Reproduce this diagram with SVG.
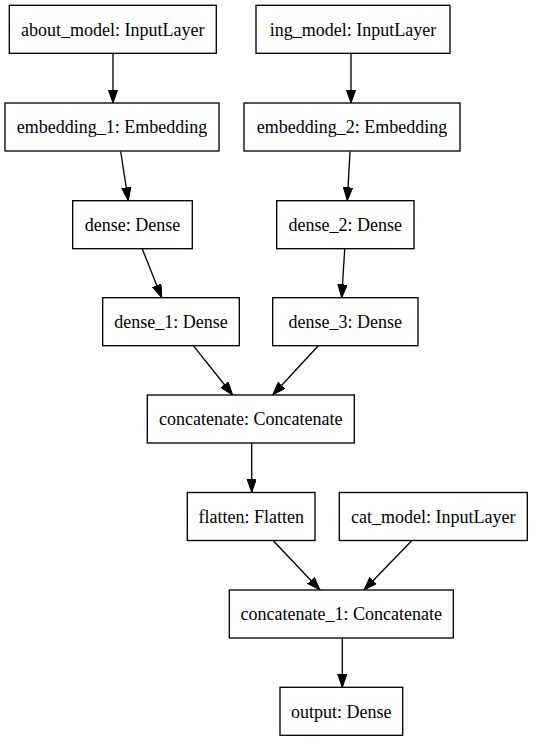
<svg xmlns="http://www.w3.org/2000/svg" width="533" height="741" viewBox="0 0 533 741">
<style>
rect{fill:#fff;stroke:#000;stroke-width:1.33}
text{font-family:'Liberation Serif',Tinos,'Times New Roman',Times,serif;font-size:18px;text-anchor:middle;fill:#000}
.e line{stroke:#000;stroke-width:1.33;marker-end:url(#ah)}
</style>
<defs>
<marker id="ah" markerUnits="userSpaceOnUse" markerWidth="14" markerHeight="10" refX="13.3" refY="4.67" orient="auto">
<path d="M0,0 L13.3,4.67 L0,9.33 z" fill="#000" stroke="#000" stroke-width="1"/>
</marker>
</defs>
<rect x="0" y="0" width="533" height="741" style="stroke:none"/>
<g class="e" id="edges">
<line x1="113" y1="53.5" x2="113" y2="103"/>
<line x1="351" y1="53.5" x2="351" y2="103"/>
<line x1="120.7" y1="151.5" x2="128.3" y2="200.7"/>
<line x1="142.3" y1="249" x2="161.7" y2="297.7"/>
<line x1="350" y1="151.5" x2="347.3" y2="200.7"/>
<line x1="344.7" y1="249" x2="341.7" y2="297.7"/>
<line x1="193.3" y1="345.7" x2="232.7" y2="395"/>
<line x1="318.3" y1="345.7" x2="272.7" y2="395"/>
<line x1="251.7" y1="442.7" x2="251.7" y2="492.3"/>
<line x1="273.3" y1="540.7" x2="320" y2="590"/>
<line x1="411.7" y1="540.7" x2="364" y2="590"/>
<line x1="342.3" y1="637.3" x2="342.3" y2="687.3"/>
</g>
<g id="about_model"><rect x="9.3" y="5.3" width="207" height="48"/><text x="112.8" y="35.5">about_model: InputLayer</text></g>
<g id="ing_model"><rect x="256" y="5.3" width="194" height="48"/><text x="353" y="35.5">ing_model: InputLayer</text></g>
<g id="embedding_1"><rect x="5" y="103" width="214" height="48"/><text x="112" y="133.2">embedding_1: Embedding</text></g>
<g id="embedding_2"><rect x="244" y="103" width="216" height="48"/><text x="352" y="133.2">embedding_2: Embedding</text></g>
<g id="dense"><rect x="72.7" y="200.7" width="119.6" height="48"/><text x="132.5" y="230.9">dense: Dense</text></g>
<g id="dense_2"><rect x="276.7" y="200.7" width="137.3" height="48"/><text x="345.3" y="230.9">dense_2: Dense</text></g>
<g id="dense_1"><rect x="102.7" y="297.7" width="136.6" height="48"/><text x="171" y="327.9">dense_1: Dense</text></g>
<g id="dense_3"><rect x="272.7" y="297.7" width="145.3" height="48"/><text x="345.3" y="327.9">dense_3: Dense</text></g>
<g id="concatenate"><rect x="147.3" y="395" width="207" height="48"/><text x="250.8" y="425.2">concatenate: Concatenate</text></g>
<g id="flatten"><rect x="187.3" y="492.5" width="127.7" height="48"/><text x="251.2" y="522.7">flatten: Flatten</text></g>
<g id="cat_model"><rect x="339.3" y="492.5" width="188" height="48"/><text x="433.3" y="522.7">cat_model: InputLayer</text></g>
<g id="concatenate_1"><rect x="229.3" y="590" width="224" height="48"/><text x="341.3" y="620.2">concatenate_1: Concatenate</text></g>
<g id="output"><rect x="280" y="687.3" width="122.7" height="48"/><text x="341.3" y="717.5">output: Dense</text></g>
</svg>
